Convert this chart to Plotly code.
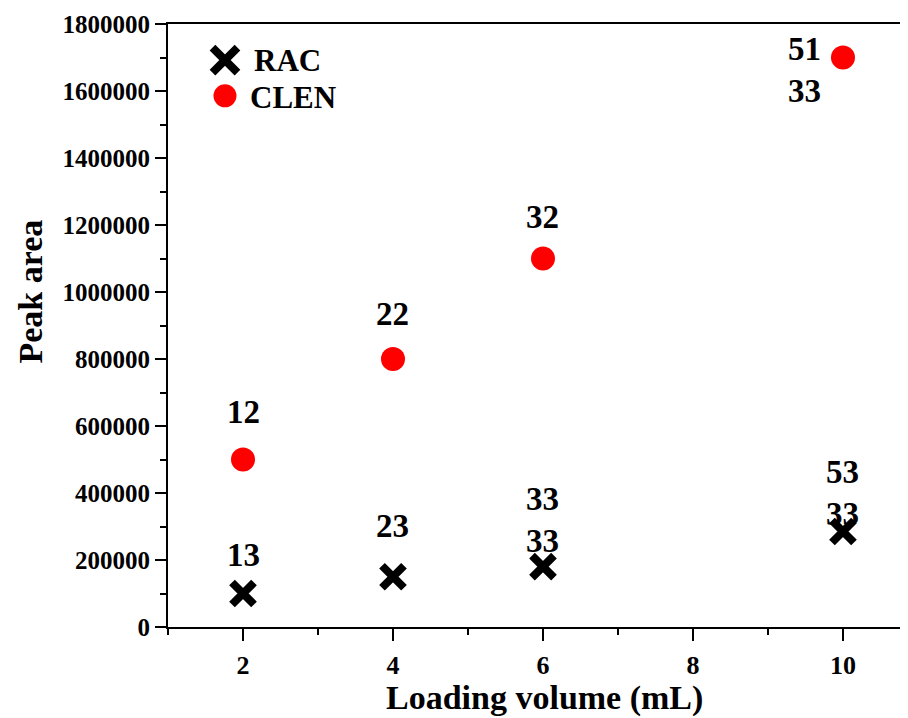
import plotly.graph_objects as go

# Data
volumes = [2, 4, 6, 10]
rac_area = [100000, 150000, 180000, 285000]
clen_area = [500000, 800000, 1100000, 1700000]
rac_labels_top = ["13", "23", "33", "53"]
rac_labels_low = ["", "", "33", "33"]
clen_labels_top = ["12", "22", "32", "51"]
clen_labels_low = ["", "", "", "33"]
series_names = ["RAC", "CLEN"]
x_title = "Loading volume (mL)"
y_title = "Peak area"
x_tick_vals = [2, 4, 6, 8, 10]
x_minor_vals = [1, 3, 5, 7, 9]
y_tick_vals = [0, 200000, 400000, 600000, 800000, 1000000, 1200000, 1400000, 1600000, 1800000]
y_minor_vals = [100000, 300000, 500000, 700000, 900000, 1100000, 1300000, 1500000, 1700000]

FONT = "Liberation Serif, Times New Roman, serif"
RAC_MARKER = dict(symbol="x-thin", size=22, color="black", line=dict(width=8, color="black"))
CLEN_MARKER = dict(symbol="circle", size=24, color="#ff0000", line=dict(width=0))

fig = go.Figure()
fig.add_trace(go.Scatter(x=volumes, y=rac_area, mode="markers", name=series_names[0],
                         marker=RAC_MARKER, showlegend=False))
fig.add_trace(go.Scatter(x=volumes, y=clen_area, mode="markers", name=series_names[1],
                         marker=CLEN_MARKER, showlegend=False))

# Custom legend (large symbols) drawn on an invisible overlay axis spanning the plot area
fig.add_trace(go.Scatter(x=[0.077], y=[0.940], mode="markers", xaxis="x2", yaxis="y2",
                         marker=dict(symbol="x-thin", size=25, color="black", line=dict(width=8, color="black")),
                         showlegend=False, hoverinfo="skip"))
fig.add_trace(go.Scatter(x=[0.077], y=[0.881], mode="markers", xaxis="x2", yaxis="y2",
                         marker=dict(symbol="circle", size=23, color="#ff0000"),
                         showlegend=False, hoverinfo="skip"))
leg_font = dict(family=FONT, size=31, color="black", weight="bold")
fig.add_annotation(x=0.113, y=0.940, xref="paper", yref="paper", text=series_names[0],
                   showarrow=False, xanchor="left", yanchor="middle", font=leg_font)
fig.add_annotation(x=0.108, y=0.878, xref="paper", yref="paper", text=series_names[1],
                   showarrow=False, xanchor="left", yanchor="middle", font=leg_font)

# Axis titles
title_font = dict(family=FONT, size=34, color="black", weight="bold")
fig.add_annotation(x=0.509, y=-0.117, xref="paper", yref="paper", text=x_title,
                   showarrow=False, xanchor="center", yanchor="middle", font=title_font)
fig.add_annotation(x=-0.186, y=0.557, xref="paper", yref="paper", text=y_title, textangle=-90,
                   showarrow=False, xanchor="center", yanchor="middle", font=title_font)

ann_font = dict(family=FONT, size=33, color="black", weight="bold")
# label offsets (pixels) relative to each point
rac_top_shift = [(0, 39), (0, 51), (0, 68), (0, 60)]
rac_low_shift = [(0, 0), (0, 0), (0, 26), (0, 18)]
clen_top_shift = [(0, 48), (0, 45), (0, 42), (-38, 9)]
clen_low_shift = [(0, 0), (0, 0), (0, 0), (-38, -33)]

def add_labels(xs, ys, labels, shifts):
    for xv, yv, t, (dx, dy) in zip(xs, ys, labels, shifts):
        if not t:
            continue
        fig.add_annotation(x=xv, y=yv, text=t, showarrow=False, xshift=dx, yshift=dy,
                           font=ann_font, xanchor="center", yanchor="middle")

add_labels(volumes, rac_area, rac_labels_top, rac_top_shift)
add_labels(volumes, rac_area, rac_labels_low, rac_low_shift)
add_labels(volumes, clen_area, clen_labels_top, clen_top_shift)
add_labels(volumes, clen_area, clen_labels_low, clen_low_shift)

fig.update_layout(
    width=900, height=710,
    margin=dict(l=160, r=0, t=16, b=91),
    paper_bgcolor="white", plot_bgcolor="white",
    font=dict(family=FONT, color="black"),
    showlegend=False,
    xaxis=dict(
        range=[1, 10.867], tickvals=x_tick_vals, ticks="outside", ticklen=12, tickwidth=2,
        tickcolor="black", ticklabelstandoff=2,
        showline=True, linecolor="black", linewidth=2, mirror=True,
        showgrid=False, zeroline=False,
        tickfont=dict(family=FONT, size=26, color="black", weight="bold"),
        minor=dict(tickvals=x_minor_vals, ticks="outside", ticklen=6, tickwidth=2, tickcolor="black"),
    ),
    yaxis=dict(
        range=[0, 1800000], tickvals=y_tick_vals, ticktext=[str(v) for v in y_tick_vals],
        ticks="outside", ticklen=11, tickwidth=2, tickcolor="black",
        showline=True, linecolor="black", linewidth=2,
        showgrid=False, zeroline=False,
        tickfont=dict(family=FONT, size=25, color="black", weight="bold"),
        minor=dict(tickvals=y_minor_vals, ticks="outside", ticklen=6, tickwidth=2, tickcolor="black"),
    ),
    xaxis2=dict(overlaying="x", range=[0, 1], visible=False, fixedrange=True),
    yaxis2=dict(overlaying="y", range=[0, 1], visible=False, fixedrange=True),
)

fig.write_html("out.html")
